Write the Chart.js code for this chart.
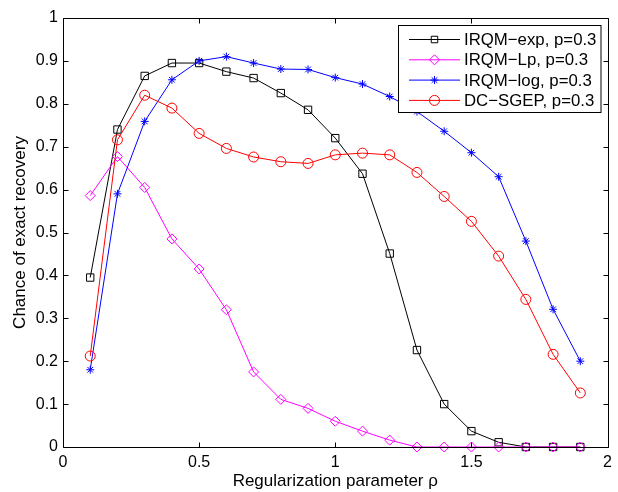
<!DOCTYPE html>
<html>
<head>
<meta charset="utf-8">
<script src="https://cdn.jsdelivr.net/npm/chart.js@4.4.1/dist/chart.umd.min.js"></script>
<style>
html,body{margin:0;padding:0;background:#fff;}
#wrap{width:618px;height:492px;position:relative;}
</style>
</head>
<body>
<div id="wrap"><canvas id="c" width="618" height="492"></canvas></div>
<script>
const xValues = [0.1,0.2,0.3,0.4,0.5,0.6,0.7,0.8,0.9,1.0,1.1,1.2,1.3,1.4,1.5,1.6,1.7,1.8,1.9];
const irqmExp = [0.395,0.74,0.865,0.895,0.895,0.875,0.86,0.825,0.786,0.72,0.637,0.451,0.226,0.10,0.037,0.011,0,0,0];
const irqmLp  = [0.586,0.677,0.605,0.485,0.415,0.32,0.175,0.111,0.09,0.06,0.037,0.016,0,0,0,0,0,0,0];
const irqmLog = [0.18,0.59,0.759,0.856,0.90,0.91,0.895,0.881,0.88,0.861,0.846,0.817,0.782,0.736,0.686,0.63,0.48,0.321,0.20];
const dcSgep  = [0.212,0.716,0.82,0.79,0.731,0.696,0.676,0.665,0.661,0.681,0.685,0.681,0.64,0.584,0.526,0.445,0.344,0.216,0.126];
const seriesLabels = ['IRQM\u2212exp, p=0.3','IRQM\u2212Lp, p=0.3','IRQM\u2212log, p=0.3','DC\u2212SGEP, p=0.3'];
const xTicks = [0,0.5,1,1.5,2];
const yTicks = [0,0.1,0.2,0.3,0.4,0.5,0.6,0.7,0.8,0.9,1];
const xTitle = 'Regularization parameter \u03c1';
const yTitle = 'Chance of exact recovery';

const FONT = '"Liberation Sans", Arial, Helvetica, sans-serif';

function pts(arr){ return arr.map((v,i)=>({x:xValues[i], y:v})); }

const styles = [
  {color:'#000000', pointStyle:'rect', radius:5.2, order:4},
  {color:'#ff00ff', pointStyle:'rectRot', radius:5, order:3},
  {color:'#0000ff', pointStyle:'star', radius:4, order:2},
  {color:'#ff0000', pointStyle:'circle', radius:5, order:1}
];
const allData = [irqmExp, irqmLp, irqmLog, dcSgep];

const datasets = allData.map((d,i)=>({
  label: seriesLabels[i],
  data: pts(d),
  borderColor: styles[i].color,
  backgroundColor: 'rgba(0,0,0,0)',
  pointBorderColor: styles[i].color,
  pointBackgroundColor: 'rgba(0,0,0,0)',
  borderWidth: 1,
  pointBorderWidth: 1,
  pointStyle: styles[i].pointStyle,
  pointRadius: styles[i].radius,
  pointHoverRadius: styles[i].radius,
  tension: 0,
  order: styles[i].order,
  clip: false,
  fill: false
}));

const boxPlugin = {
  id: 'boxPlugin',
  afterDatasetsDraw(chart){
    const ctx = chart.ctx, a = chart.chartArea;
    const xs = chart.scales.x, ys = chart.scales.y;
    ctx.save();
    ctx.strokeStyle = '#000';
    ctx.lineWidth = 1;
    const L = Math.round(a.left)+0.5, R = Math.round(a.right)+0.5, T = Math.round(a.top)+0.5, B = Math.round(a.bottom)+0.5;
    ctx.beginPath();
    ctx.rect(L, T, R-L, B-T);
    ctx.stroke();
    const tl = 5;
    ctx.beginPath();
    xTicks.forEach(v=>{
      const px = Math.round(xs.getPixelForValue(v))+0.5;
      ctx.moveTo(px, B); ctx.lineTo(px, B-tl);
      ctx.moveTo(px, T); ctx.lineTo(px, T+tl);
    });
    yTicks.forEach(v=>{
      const py = Math.round(ys.getPixelForValue(v))+0.5;
      ctx.moveTo(L, py); ctx.lineTo(L+tl, py);
      ctx.moveTo(R, py); ctx.lineTo(R-tl, py);
    });
    ctx.stroke();

    // legend
    const bx = 398.5, by = 25.5, bw = 202.5, bh = 87;
    ctx.fillStyle = '#fff';
    ctx.fillRect(bx, by, bw, bh);
    ctx.strokeStyle = '#000';
    ctx.strokeRect(bx, by, bw, bh);
    const rowY = [39.5, 59.8, 80.1, 100.4];
    chart.data.datasets.forEach((ds,i)=>{
      const y = rowY[i];
      ctx.strokeStyle = ds.borderColor;
      ctx.lineWidth = 1;
      ctx.beginPath();
      ctx.moveTo(409, y); ctx.lineTo(460, y);
      ctx.stroke();
      ctx.fillStyle = 'rgba(0,0,0,0)';
      ctx.strokeStyle = ds.borderColor;
      const r = ds.pointStyle === 'rect' ? 4.6 : (ds.pointStyle === 'star' ? 4 : 5);
      Chart.helpers.drawPoint(ctx, {pointStyle: ds.pointStyle, radius: r, rotation: 0, borderWidth: 1}, 434.5, y);
      ctx.fillStyle = '#000';
      ctx.font = '16.8px ' + FONT;
      ctx.textBaseline = 'middle';
      ctx.textAlign = 'left';
      ctx.fillText(ds.label, 464, y+1);
    });
    ctx.restore();
  }
};

new Chart(document.getElementById('c'), {
  type: 'line',
  data: { datasets },
  options: {
    responsive: false,
    animation: false,
    events: [],
    layout: { padding: { top: 18, right: 10, left: 0, bottom: 0 } },
    plugins: { legend: {display:false}, tooltip: {enabled:false} },
    scales: {
      x: {
        type: 'linear', min: 0, max: 2,
        afterFit(s){ s.height = 45; },
        afterBuildTicks(s){ s.ticks = xTicks.map(v=>({value:v})); },
        grid: { display: false, drawTicks: false },
        border: { display: false },
        ticks: { color:'#000', font:{family:FONT, size:16}, padding: 6, maxRotation:0, autoSkip:false,
          callback: v => String(v) },
        title: { display: true, text: xTitle, color:'#000', font:{family:FONT, size:17}, padding:{top:0,bottom:0} }
      },
      y: {
        type: 'linear', min: 0, max: 1,
        afterFit(s){ s.width = 63; },
        afterBuildTicks(s){ s.ticks = yTicks.map(v=>({value:v})); },
        grid: { display: false, drawTicks: false },
        border: { display: false },
        ticks: { color:'#000', font:{family:FONT, size:16}, padding: 5, autoSkip:false,
          callback: v => String(Math.round(v*10)/10) },
        title: { display: true, text: yTitle, color:'#000', font:{family:FONT, size:17}, padding:{top:10,bottom:0} }
      }
    }
  },
  plugins: [boxPlugin]
});
</script>
</body>
</html>
